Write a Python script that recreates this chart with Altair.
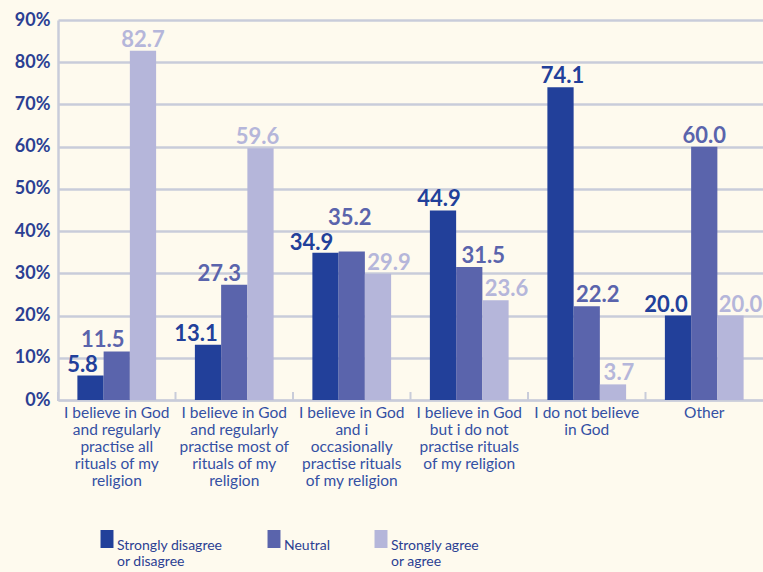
import altair as alt
import pandas as pd

categories = [
    "I believe in God|and regularly|practise all|rituals of my|religion",
    "I believe in God|and regularly|practise most of|rituals of my|religion",
    "I believe in God|and i|occasionally|practise rituals|of my religion",
    "I believe in God|but i do not|practise rituals|of my religion",
    "I do not believe|in God",
    "Other",
]
series = ["Strongly disagree|or disagree", "Neutral", "Strongly agree|or agree"]
disagree = [5.8, 13.1, 34.9, 44.9, 74.1, 20.0]
neutral = [11.5, 27.3, 35.2, 31.5, 22.2, 60.0]
agree = [82.7, 59.6, 29.9, 23.6, 3.7, 20.0]
colors = ["#22409A", "#5A64AC", "#B5B6DA"]

# label placement nudges (dx, dy) per (category index, series index), as in the original
label_nudge = {
    (0, 0): (-8, 0), (0, 1): (-14, 0), (0, 2): (0, 0),
    (1, 0): (-12, 0), (1, 1): (-15, 0), (1, 2): (-3, 0),
    (2, 0): (-14, 1.5), (2, 1): (-2, -22), (2, 2): (11, 0),
    (3, 0): (-4, 0), (3, 1): (14, 0), (3, 2): (11, 0),
    (4, 0): (2, 0), (4, 1): (11, 0), (4, 2): (6, 0),
    (5, 0): (-12, 0), (5, 1): (0, 0), (5, 2): (10, 0),
}

rows = []
for i, c in enumerate(categories):
    for s, vals in zip(series, [disagree, neutral, agree]):
        rows.append({"category": c, "series": s, "value": vals[i]})
df = pd.DataFrame(rows)

FONT = "Lato"
TXT = "#2B3F93"
GRID = "#C9CCDA"

x = alt.X("category:N", sort=categories, title=None,
          scale=alt.Scale(paddingInner=0.33, paddingOuter=0.165),
          axis=alt.Axis(labelExpr="split(datum.label, '|')", labelAngle=0,
                        labelFont=FONT, labelFontSize=15.5, labelColor="#3450A4",
                        labelLineHeight=17, labelPadding=5, labelBaseline="top",
                        labelLimit=200, ticks=False, domain=True,
                        domainColor=GRID, domainWidth=2))
xo = alt.XOffset("series:N", sort=series, scale=alt.Scale(paddingInner=0, paddingOuter=0))
y = alt.Y("value:Q", title=None,
          scale=alt.Scale(domain=[0, 90], nice=False),
          axis=alt.Axis(values=list(range(0, 91, 10)), labelExpr="datum.value + '%'",
                        labelFont=FONT, labelFontSize=18, labelFontWeight="bold",
                        labelColor=TXT, labelPadding=8, ticks=False,
                        grid=True, gridColor=GRID, gridWidth=2.5,
                        domain=True, domainColor=GRID, domainWidth=2.5))
cscale = alt.Scale(domain=series, range=colors)
color = alt.Color("series:N", sort=series, scale=cscale,
                  legend=alt.Legend(title=None, orient="none", direction="horizontal",
                                    legendX=40, legendY=510,
                                    labelExpr="indexof(datum.label, '|') >= 0 ? split(datum.label, '|') : [datum.label, ' ']",
                                    labelFont=FONT, labelFontSize=14, labelColor=TXT,
                                    labelBaseline="top",
                                    labelOffset=1, labelLimit=300, columnPadding=42,
                                    symbolType="M-0.72,-1H0.72V1H-0.72Z",
                                    symbolSize=324, symbolStrokeWidth=0,
                                    symbolOpacity=1))

base = alt.Chart(df)
bars = base.mark_bar().encode(x=x, xOffset=xo, y=y, color=color)

label_layers = []
for i, c in enumerate(categories):
    for j, s in enumerate(series):
        dx, dy = label_nudge[(i, j)]
        label_layers.append(
            base.transform_filter(
                (alt.datum.category == c) & (alt.datum.series == s)
            ).mark_text(baseline="alphabetic", dx=dx, dy=-4 + dy, font=FONT,
                        fontSize=22, fontWeight="bold").encode(
                x=x, xOffset=xo, y=y,
                color=alt.Color("series:N", sort=series, legend=None, scale=cscale),
                text=alt.Text("value:Q", format=".1f"))
        )

ticks = alt.Chart(pd.DataFrame({"category": categories})).mark_rule(
    color=GRID, strokeWidth=2).encode(
    x=alt.X("category:N", sort=categories, bandPosition=0, axis=None,
            scale=alt.Scale(paddingInner=0, paddingOuter=0)),
    y=alt.value(372), y2=alt.value(381))

main = alt.layer(bars, *label_layers)
chart = alt.layer(main, ticks).resolve_scale(x="independent").properties(
    width=705, height=380,
    padding={"left": 58, "top": 20, "right": 0, "bottom": 172},
    autosize=alt.AutoSizeParams(type="none"),
    background="#FEFAEE",
).configure_view(stroke=None)

chart.save("out.html", embed_options={"renderer": "svg", "actions": False})
